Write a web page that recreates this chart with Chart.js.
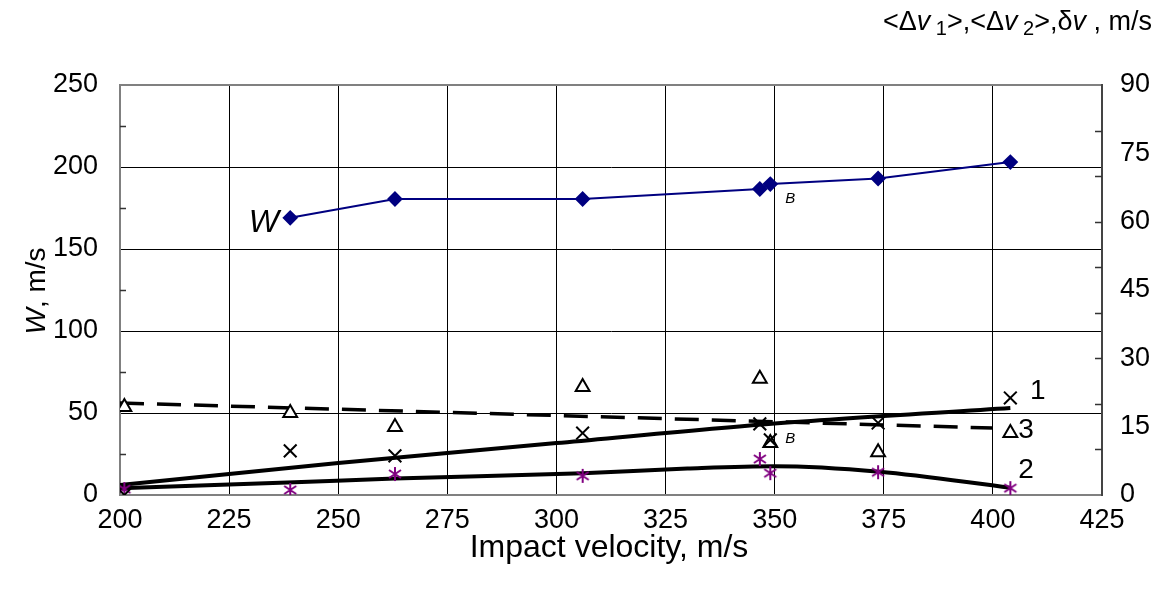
<!DOCTYPE html>
<html>
<head>
<meta charset="utf-8">
<script src="https://cdn.jsdelivr.net/npm/chart.js@4/dist/chart.umd.min.js"></script>
<style>
  html, body { margin: 0; padding: 0; background: #fff; }
  #wrap { width: 1165px; height: 590px; }
</style>
</head>
<body>
<div id="wrap"><canvas id="chart" width="1165" height="590"></canvas></div>
<script>
// impact velocity, m/s
const velW = [239, 263, 306, 346.6, 349, 373.7, 404];
const valW = [169, 180.5, 180.5, 186.6, 189.6, 193, 203];

// measured points (right axis), m/s
const velD = [201, 239, 263, 306, 346.6, 349, 373.7, 404];
const dv1 = [0, 9.7, 8.6, 13.6, 15.6, 12.1, 15.8, 21.3];   // crosses, curve 1
const dv2 = [1.3, 1.1, 4.6, 4.2, 7.9, 4.8, 5.0, 1.5];      // asterisks, curve 2
const dv3 = [19.3, 18.0, 14.9, 23.7, 25.5, 11.4, 9.4, 13.6]; // triangles, curve 3

// fitted curves
const fit1X = [200, 250, 300, 350, 404];
const fit1Y = [2.2, 7.0, 11.4, 15.7, 19.1];
const fit2X = [200, 240, 263, 306, 330, 350, 374, 404];
const fit2Y = [1.5, 2.8, 3.6, 4.8, 5.8, 6.3, 5.1, 1.6];
const fit3X = [200, 400];
const fit3Y = [20.2, 14.7];

const xTicks = [200, 225, 250, 275, 300, 325, 350, 375, 400, 425];

const pts = (xs, ys) => xs.map((x, i) => ({ x: x, y: ys[i] }));

// asterisk marker (vertical bar + X)
function asterisk(color) {
  const c = document.createElement('canvas');
  c.width = 16; c.height = 16;
  const g = c.getContext('2d');
  g.strokeStyle = color; g.lineWidth = 2;
  g.beginPath();
  g.moveTo(8, 1); g.lineTo(8, 15);
  g.moveTo(2, 4); g.lineTo(14, 12);
  g.moveTo(14, 4); g.lineTo(2, 12);
  g.stroke();
  return c;
}

const FONT = '"Liberation Sans", Arial, sans-serif';

function runs(ctx, parts, x, y) {
  let cx = x;
  parts.forEach(p => {
    ctx.font = p.f;
    ctx.fillText(p.t, cx, y + (p.dy || 0));
    cx += ctx.measureText(p.t).width;
  });
}

const notes = {
  id: 'notes',
  afterDraw(chart) {
    const ctx = chart.ctx;
    const a = chart.chartArea;
    const sx = chart.scales.x, sl = chart.scales.yL, sr = chart.scales.yR;
    ctx.save();
    ctx.fillStyle = '#000';
    ctx.strokeStyle = '#333';
    ctx.lineWidth = 1.5;
    // inner minor ticks
    ctx.beginPath();
    for (let v = 25; v < 250; v += 50) {
      const y = Math.round(sl.getPixelForValue(v)) + 0.5;
      ctx.moveTo(a.left, y); ctx.lineTo(a.left + 6, y);
    }
    for (let v = 10; v < 90; v += 10) {
      const y = Math.round(sr.getPixelForValue(v)) + 0.5;
      ctx.moveTo(a.right, y); ctx.lineTo(a.right - 7, y);
    }
    ctx.stroke();

    ctx.textBaseline = 'alphabetic';
    ctx.textAlign = 'left';
    ctx.font = 'italic 32px ' + FONT;
    ctx.fillText('W', sx.getPixelForValue(229.5), sl.getPixelForValue(160.4));
    ctx.font = 'italic 15px ' + FONT;
    ctx.fillText('B', sx.getPixelForValue(352.4), sl.getPixelForValue(178));
    ctx.fillText('B', sx.getPixelForValue(352.4), sr.getPixelForValue(11.4));
    ctx.font = '28px ' + FONT;
    ctx.fillText('1', sx.getPixelForValue(408.5), sr.getPixelForValue(21.0));
    ctx.fillText('3', sx.getPixelForValue(405.8), sr.getPixelForValue(12.6));
    ctx.fillText('2', sx.getPixelForValue(405.8), sr.getPixelForValue(3.8));

    // x title
    ctx.textAlign = 'center';
    ctx.font = '32px ' + FONT;
    ctx.fillText('Impact velocity, m/s', 609, 557);

    // left title
    ctx.save();
    ctx.translate(45, 291);
    ctx.rotate(-Math.PI / 2);
    ctx.textAlign = 'left';
    ctx.font = '28px ' + FONT;
    const w1 = ctx.measureText(', m/s').width;
    ctx.font = 'italic 28px ' + FONT;
    const w0 = ctx.measureText('W').width;
    runs(ctx, [{ t: 'W', f: 'italic 28px ' + FONT }, { t: ', m/s', f: '28px ' + FONT }], -(w0 + w1) / 2, 0);
    ctx.restore();

    // right title
    ctx.textAlign = 'left';
    const n = '27px ' + FONT, it = 'italic 27px ' + FONT, sb = '20px ' + FONT;
    runs(ctx, [
      { t: '<\u0394', f: n }, { t: 'v', f: it }, { t: ' 1', f: sb, dy: 5 },
      { t: '>,<\u0394', f: n }, { t: 'v', f: it }, { t: ' 2', f: sb, dy: 5 },
      { t: '>,\u03B4', f: n }, { t: 'v', f: it }, { t: ' , m/s', f: n }
    ], 883, 30);
    ctx.restore();
  }
};

const line = (data, extra) => Object.assign({
  data: data, yAxisID: 'yR', showLine: true, pointRadius: 0,
  borderColor: '#000', borderWidth: 4, fill: false
}, extra);

const tickFont = { family: FONT, size: 27 };

new Chart(document.getElementById('chart'), {
  type: 'scatter',
  data: {
    datasets: [
      {
        label: 'W', data: pts(velW, valW), yAxisID: 'yL', showLine: true,
        borderColor: '#000080', backgroundColor: '#000080', borderWidth: 2,
        pointStyle: 'rectRot', pointRadius: 6.5, order: 1
      },
      { label: 'dv1', data: pts(velD, dv1), yAxisID: 'yR', pointStyle: 'crossRot',
        pointRadius: 9, borderColor: '#000', borderWidth: 2, order: 2 },
      { label: 'dv2', data: pts(velD, dv2), yAxisID: 'yR', pointStyle: asterisk('#800080'),
        order: 3 },
      { label: 'dv3', data: pts(velD, dv3), yAxisID: 'yR', pointStyle: 'triangle',
        pointRadius: 8, borderColor: '#000', backgroundColor: '#fff', borderWidth: 2, order: 4 },
      line(pts(fit1X, fit1Y), { label: 'fit1', tension: 0.3, order: 5 }),
      line(pts(fit2X, fit2Y), { label: 'fit2', cubicInterpolationMode: 'monotone', order: 6 }),
      line(pts(fit3X, fit3Y), { label: 'fit3', borderWidth: 3.5, borderDash: [24, 13], order: 7 })
    ]
  },
  options: {
    responsive: false,
    animation: false,
    layout: { padding: { top: 85, left: 0, right: 0, bottom: 0 } },
    plugins: { legend: { display: false }, tooltip: { enabled: false } },
    scales: {
      x: {
        type: 'linear', min: 200, max: 425,
        afterBuildTicks: s => { s.ticks = xTicks.map(v => ({ value: v })); },
        afterFit: s => { s.height = 95; },
        grid: { color: '#000', lineWidth: 1, drawTicks: false },
        border: { display: true, color: '#808080', width: 2 },
        ticks: { color: '#000', padding: 9, font: tickFont }
      },
      yL: {
        position: 'left', min: 0, max: 250,
        afterFit: s => { s.width = 120; },
        grid: {
          color: c => c.tick.value === 250 ? '#808080' : '#000',
          lineWidth: c => c.tick.value === 250 ? 2 : 1,
          drawTicks: false
        },
        border: { display: true, color: '#808080', width: 2 },
        ticks: { stepSize: 50, color: '#000', padding: 22, font: tickFont }
      },
      yR: {
        position: 'right', min: 0, max: 90,
        afterFit: s => { s.width = 63; },
        grid: { display: false, drawTicks: false },
        border: { display: true, color: '#444', width: 2 },
        ticks: { stepSize: 15, color: '#000', padding: 18, font: tickFont }
      }
    }
  },
  plugins: [notes]
});
</script>
</body>
</html>
